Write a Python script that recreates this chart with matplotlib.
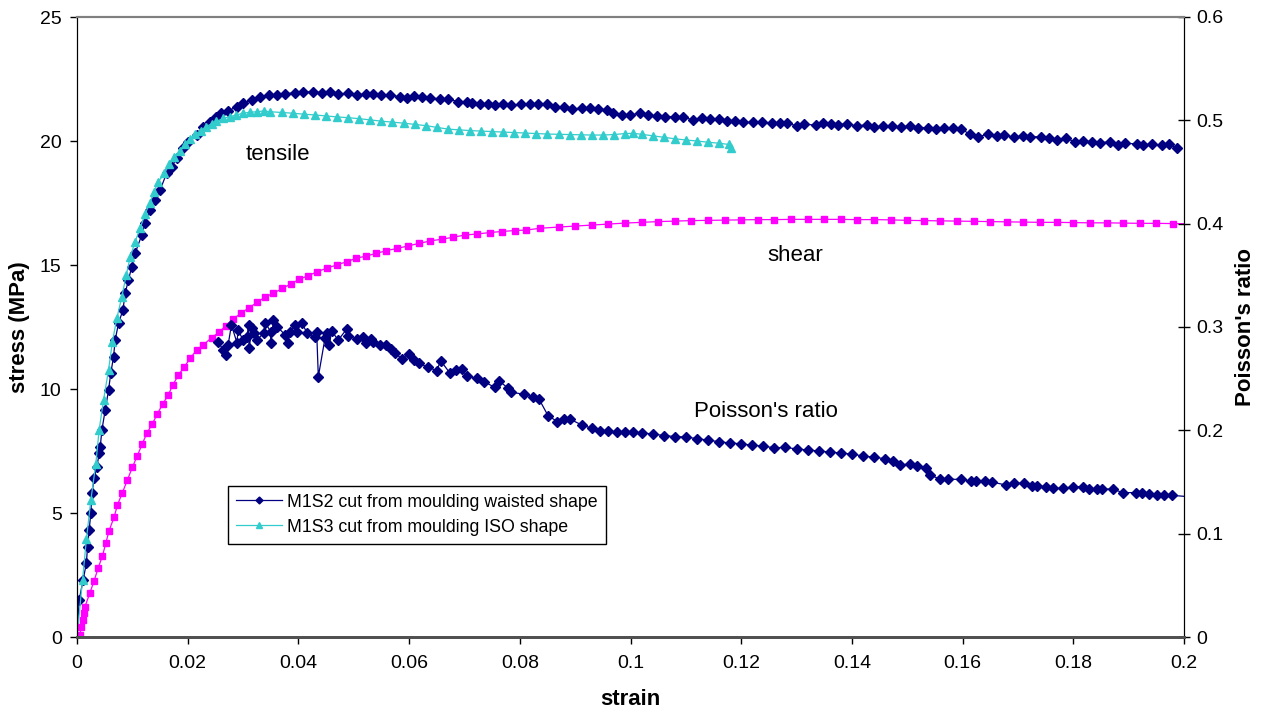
import matplotlib
matplotlib.use("Agg")
import matplotlib.pyplot as plt
from matplotlib.ticker import FormatStrFormatter, MultipleLocator

plt.rcParams['font.family'] = ['Liberation Sans', 'DejaVu Sans']

# M1S2 waisted shape, tensile stress (MPa) vs strain
m1s2_strain = [0, 0.0004, 0.0011, 0.0017, 0.0019, 0.0022, 0.0025, 0.0027, 0.0031, 0.0036,
               0.0040, 0.0042, 0.0045, 0.0051, 0.0057, 0.0061, 0.0066, 0.0069, 0.0075, 0.0083,
               0.0087, 0.0093, 0.0099, 0.0105, 0.0117, 0.0123, 0.0132, 0.0141, 0.0150, 0.0162,
               0.0171, 0.0180, 0.0192, 0.0201, 0.0216, 0.0228, 0.0240, 0.0252, 0.0261, 0.0273,
               0.0289, 0.0300, 0.0316, 0.0331, 0.0346, 0.0361, 0.0376, 0.0394, 0.0409, 0.0427,
               0.0442, 0.0457, 0.0472, 0.0490, 0.0505, 0.0523, 0.0535, 0.0550, 0.0565, 0.0584,
               0.0596, 0.0608, 0.0623, 0.0638, 0.0656, 0.0671, 0.0689, 0.0704, 0.0713, 0.0728,
               0.0743, 0.0755, 0.0770, 0.0785, 0.0803, 0.0818, 0.0833, 0.0849, 0.0864, 0.0879,
               0.0894, 0.0912, 0.0927, 0.0942, 0.0957, 0.0969, 0.0984, 0.0999, 0.1017, 0.1032,
               0.1047, 0.1062, 0.1080, 0.1095, 0.1113, 0.1129, 0.1144, 0.1159, 0.1174, 0.1189,
               0.1204, 0.1221, 0.1237, 0.1255, 0.1270, 0.1283, 0.1300, 0.1314, 0.1335, 0.1348,
               0.1362, 0.1375, 0.1392, 0.1410, 0.1427, 0.1440, 0.1456, 0.1472, 0.1488, 0.1505,
               0.1520, 0.1537, 0.1552, 0.1567, 0.1582, 0.1598, 0.1613, 0.1628, 0.1646, 0.1662,
               0.1675, 0.1692, 0.1709, 0.1722, 0.1741, 0.1757, 0.1771, 0.1787, 0.1803, 0.1817,
               0.1833, 0.1848, 0.1866, 0.1881, 0.1893, 0.1915, 0.1926, 0.1942, 0.1960, 0.1972,
               0.1987]
m1s2_stress = [0, 1.5, 2.3, 2.98, 3.64, 4.31, 5.0, 5.8, 6.4, 6.87,
               7.4, 7.67, 8.35, 9.15, 9.96, 10.63, 11.3, 11.98, 12.65, 13.19,
               13.86, 14.4, 14.93, 15.47, 16.21, 16.68, 17.22, 17.62, 18.02, 18.7,
               18.96, 19.3, 19.7, 19.97, 20.24, 20.58, 20.78, 20.96, 21.12, 21.22,
               21.38, 21.52, 21.65, 21.76, 21.85, 21.85, 21.90, 21.95, 21.98, 21.98,
               21.95, 21.98, 21.90, 21.92, 21.85, 21.90, 21.88, 21.85, 21.84, 21.79,
               21.72, 21.81, 21.76, 21.72, 21.71, 21.68, 21.59, 21.56, 21.52, 21.49,
               21.48, 21.45, 21.49, 21.44, 21.48, 21.48, 21.48, 21.48, 21.38, 21.38,
               21.28, 21.33, 21.33, 21.28, 21.25, 21.12, 21.05, 21.05, 21.12, 21.05,
               21.01, 20.98, 20.98, 20.96, 20.85, 20.94, 20.88, 20.88, 20.82, 20.82,
               20.75, 20.75, 20.78, 20.71, 20.71, 20.71, 20.62, 20.69, 20.63, 20.71,
               20.69, 20.66, 20.69, 20.60, 20.66, 20.55, 20.60, 20.60, 20.55, 20.62,
               20.54, 20.54, 20.47, 20.51, 20.51, 20.47, 20.28, 20.17, 20.28, 20.20,
               20.24, 20.16, 20.20, 20.17, 20.17, 20.11, 20.04, 20.11, 19.97, 20.0,
               19.97, 19.93, 19.97, 19.83, 19.91, 19.88, 19.84, 19.88, 19.83, 19.88,
               19.71]

# M1S3 ISO shape, tensile stress (MPa) vs strain
m1s3_strain = [0, 0.0010, 0.0017, 0.0025, 0.0034, 0.0040, 0.0048, 0.0057, 0.0064, 0.0072,
               0.0081, 0.0089, 0.0096, 0.0105, 0.0114, 0.0123, 0.0132, 0.0139, 0.0147, 0.0158,
               0.0167, 0.0176, 0.0186, 0.0195, 0.0204, 0.0213, 0.0224, 0.0233, 0.0243, 0.0252,
               0.0264, 0.0276, 0.0288, 0.0300, 0.0313, 0.0325, 0.0337, 0.0349, 0.037, 0.039,
               0.041, 0.043, 0.045, 0.047, 0.049, 0.051, 0.053, 0.055, 0.057, 0.059,
               0.061, 0.063, 0.065, 0.067, 0.069, 0.071, 0.073, 0.075, 0.077, 0.079,
               0.081, 0.083, 0.085, 0.087, 0.089, 0.091, 0.093, 0.095, 0.097, 0.099,
               0.1005, 0.102, 0.104, 0.106, 0.108, 0.110, 0.112, 0.114, 0.116, 0.1178,
               0.1181]
m1s3_stress = [0, 2.3, 3.94, 5.52, 6.98, 8.35, 9.56, 10.77, 11.91, 12.85,
               13.72, 14.6, 15.31, 15.94, 16.48, 17.06, 17.51, 17.96, 18.36, 18.7,
               19.06, 19.37, 19.61, 19.88, 20.08, 20.27, 20.42, 20.58, 20.69, 20.79,
               20.91, 20.98, 21.05, 21.12, 21.16, 21.18, 21.21, 21.18, 21.15, 21.12,
               21.08, 21.05, 21.01, 20.97, 20.94, 20.90, 20.85, 20.80, 20.76, 20.72,
               20.67, 20.62, 20.55, 20.48, 20.45, 20.42, 20.40, 20.38, 20.36, 20.34,
               20.32, 20.30, 20.28, 20.27, 20.26, 20.25, 20.24, 20.24, 20.26, 20.30,
               20.31, 20.27, 20.21, 20.15, 20.09, 20.04, 20.0, 19.95, 19.91, 19.86,
               19.70]

# shear stress (MPa) vs strain
shear_strain = [0.0002, 0.0005, 0.0008, 0.0010, 0.0012, 0.0014, 0.0023, 0.0031, 0.0038, 0.0046,
                0.0052, 0.0058, 0.0067, 0.0073, 0.0082, 0.0091, 0.0100, 0.0109, 0.0118, 0.0126,
                0.0136, 0.0145, 0.0155, 0.0165, 0.0173, 0.0183, 0.0194, 0.0205, 0.0216, 0.0228,
                0.0243, 0.0257, 0.0269, 0.0282, 0.0296, 0.0311, 0.0326, 0.0339, 0.0355, 0.0371,
                0.0386, 0.0401, 0.0418, 0.0434, 0.0451, 0.0469, 0.0487, 0.0504, 0.0522, 0.0541,
                0.0559, 0.0579, 0.0598, 0.0618, 0.0638, 0.0659, 0.0680, 0.0701, 0.0723, 0.0746,
                0.0767, 0.0791, 0.0812, 0.0836, 0.087, 0.090, 0.093, 0.096, 0.099, 0.102,
                0.105, 0.108, 0.111, 0.114, 0.117, 0.120, 0.123, 0.126, 0.129, 0.132,
                0.135, 0.138, 0.141, 0.144, 0.147, 0.150, 0.153, 0.156, 0.159, 0.162,
                0.165, 0.168, 0.171, 0.174, 0.177, 0.180, 0.183, 0.186, 0.189, 0.192,
                0.195, 0.198, 0.2015]
shear_stress = [0.0, 0.1, 0.4, 0.7, 0.95, 1.2, 1.76, 2.27, 2.77, 3.27,
                3.78, 4.29, 4.83, 5.32, 5.82, 6.33, 6.84, 7.31, 7.79, 8.21,
                8.59, 8.99, 9.4, 9.76, 10.16, 10.55, 10.9, 11.25, 11.57, 11.77,
                12.07, 12.29, 12.56, 12.82, 13.05, 13.28, 13.5, 13.7, 13.86, 14.06,
                14.23, 14.42, 14.57, 14.73, 14.87, 15.0, 15.13, 15.27, 15.36, 15.47,
                15.58, 15.67, 15.77, 15.87, 15.97, 16.04, 16.12, 16.21, 16.25, 16.31,
                16.35, 16.39, 16.41, 16.48, 16.53, 16.57, 16.61, 16.65, 16.69, 16.72,
                16.75, 16.77, 16.79, 16.80, 16.81, 16.82, 16.83, 16.83, 16.84, 16.84,
                16.84, 16.84, 16.83, 16.83, 16.82, 16.80, 16.79, 16.78, 16.77, 16.76,
                16.75, 16.74, 16.73, 16.72, 16.72, 16.71, 16.70, 16.70, 16.69, 16.68,
                16.68, 16.67, 16.66]

# Poisson's ratio vs strain (right axis)
poisson_strain = [0.0255, 0.0264, 0.0269, 0.0273, 0.0279, 0.0289, 0.0291, 0.0300, 0.0307, 0.0310,
                  0.0311, 0.0316, 0.0319, 0.0325, 0.0337, 0.0340, 0.0350, 0.0350, 0.0355, 0.0362,
                  0.0376, 0.0382, 0.0384, 0.0394, 0.0397, 0.0406, 0.0416, 0.0430, 0.0433, 0.0436,
                  0.0448, 0.0451, 0.0456, 0.0460, 0.0472, 0.0487, 0.0490, 0.0505, 0.0516, 0.0522,
                  0.0532, 0.0535, 0.0547, 0.0558, 0.0567, 0.0575, 0.0588, 0.0600, 0.0608, 0.0617,
                  0.0635, 0.0650, 0.0657, 0.0674, 0.0685, 0.0695, 0.0705, 0.0722, 0.0735, 0.0755,
                  0.0763, 0.0779, 0.0785, 0.0808, 0.0823, 0.0835, 0.0851, 0.0868, 0.0879, 0.0891,
                  0.0912, 0.0930, 0.0945, 0.0960, 0.0975, 0.0990, 0.1005, 0.1020, 0.1040, 0.1060,
                  0.1080, 0.1100, 0.1120, 0.1140, 0.1160, 0.1180, 0.1200, 0.1220, 0.1240, 0.1260,
                  0.1280, 0.1300, 0.1320, 0.1340, 0.1360, 0.1380, 0.1400, 0.1420, 0.1440, 0.1460,
                  0.1475, 0.1487, 0.1505, 0.1518, 0.1534, 0.1541, 0.1560, 0.1573, 0.1597, 0.1615,
                  0.1625, 0.1640, 0.1653, 0.1678, 0.1692, 0.1711, 0.1725, 0.1734, 0.1750, 0.1763,
                  0.1782, 0.1800, 0.1818, 0.1829, 0.1842, 0.1851, 0.1872, 0.1890, 0.1913, 0.1924,
                  0.1937, 0.1951, 0.1963, 0.1978, 0.2015]
poisson_ratio = [0.2858, 0.2778, 0.2729, 0.2826, 0.3019, 0.2848, 0.2971, 0.2874, 0.2906, 0.3019,
                 0.2794, 0.2987, 0.2939, 0.2874, 0.2939, 0.3042, 0.2955, 0.2842, 0.3068, 0.3003,
                 0.2923, 0.2842, 0.2955, 0.3019, 0.2955, 0.3042, 0.2939, 0.2906, 0.2955, 0.2519,
                 0.2890, 0.2939, 0.2826, 0.2961, 0.2874, 0.2978, 0.2913, 0.2884, 0.2906, 0.2848,
                 0.2884, 0.2858, 0.2826, 0.2826, 0.2784, 0.2745, 0.2687, 0.2736, 0.2681, 0.2649,
                 0.2610, 0.2577, 0.2674, 0.2552, 0.2584, 0.2590, 0.2526, 0.2504, 0.2471, 0.2416,
                 0.2477, 0.2407, 0.2368, 0.2349, 0.2326, 0.2300, 0.2142, 0.2084, 0.2110, 0.2107,
                 0.2052, 0.2020, 0.1996, 0.1990, 0.1985, 0.1984, 0.1980, 0.1975, 0.1965, 0.1950,
                 0.1940, 0.1935, 0.1920, 0.1906, 0.1890, 0.1877, 0.1870, 0.1855, 0.1848, 0.1830,
                 0.1835, 0.1820, 0.1810, 0.1800, 0.1790, 0.1780, 0.1770, 0.1752, 0.1740, 0.1725,
                 0.1700, 0.1665, 0.1674, 0.1658, 0.1639, 0.1568, 0.1526, 0.1526, 0.1526, 0.1510,
                 0.1510, 0.1510, 0.1500, 0.1471, 0.1487, 0.1487, 0.1461, 0.1461, 0.1455, 0.1439,
                 0.1439, 0.1455, 0.1455, 0.1435, 0.1435, 0.1435, 0.1429, 0.1397, 0.1397, 0.1397,
                 0.1384, 0.1371, 0.1371, 0.1371, 0.1355]

navy = '#000080'
cyan = '#33CCCC'
magenta = '#FF00FF'

fig = plt.figure(figsize=(12.69, 7.15), dpi=100)
ax = fig.add_axes([77/1269, 1 - 637/715, (1184 - 77)/1269, (637 - 17)/715])
ax2 = ax.twinx()

l1, = ax.plot(m1s2_strain, m1s2_stress, '-', color=navy, lw=0.9, marker='D', ms=5,
              label='M1S2 cut from moulding waisted shape')
l2, = ax.plot(m1s3_strain, m1s3_stress, '-', color=cyan, lw=0.9, marker='^', ms=5.5,
              label='M1S3 cut from moulding ISO shape')
ax.plot(shear_strain, shear_stress, '-', color=magenta, lw=0.9, marker='s', ms=5)
ax2.plot(poisson_strain, poisson_ratio, '-', color=navy, lw=0.9, marker='D', ms=5)

ax.set_xlim(0, 0.2)
ax.set_ylim(0, 25)
ax2.set_ylim(0, 0.6)
ax.xaxis.set_major_locator(MultipleLocator(0.02))
ax.yaxis.set_major_locator(MultipleLocator(5))
ax2.yaxis.set_major_locator(MultipleLocator(0.1))
ax.xaxis.set_major_formatter(FormatStrFormatter('%g'))
ax2.yaxis.set_major_formatter(FormatStrFormatter('%g'))

for a in (ax, ax2):
    a.spines['top'].set_color('#808080')
    a.spines['top'].set_linewidth(1.5)
    a.spines['bottom'].set_color('#505050')
    a.spines['bottom'].set_linewidth(2)
    a.spines['left'].set_color('black')
    a.spines['right'].set_color('black')
ax.tick_params(axis='both', direction='out', length=5, width=1, labelsize=14, pad=6)
ax.tick_params(axis='x', pad=8)
ax2.tick_params(axis='y', direction='inout', length=8, width=1, labelsize=14, pad=5)

ax.set_xlabel('strain', fontsize=16, fontweight='bold', labelpad=12)
ax.set_ylabel('stress (MPa)', fontsize=16, fontweight='bold', labelpad=7)
ax2.set_ylabel("Poisson's ratio", fontsize=16, fontweight='bold', labelpad=8)

ax.text(0.0363, 19.45, 'tensile', fontsize=16, ha='center', va='center')
ax.text(0.1298, 15.4, 'shear', fontsize=16, ha='center', va='center')
ax.text(0.1245, 9.1, "Poisson's ratio", fontsize=16, ha='center', va='center')

leg = ax2.legend(handles=[l1, l2], loc='upper left', bbox_to_anchor=(0.136, 0.244),
                 fontsize=12.8, numpoints=1, markerscale=0.7, fancybox=False,
                 edgecolor='black', framealpha=1, borderpad=0.45, handlelength=2.6,
                 handletextpad=0.3, labelspacing=0.45, borderaxespad=0)
leg.get_frame().set_linewidth(1)

fig.savefig('out.png', dpi=100)
